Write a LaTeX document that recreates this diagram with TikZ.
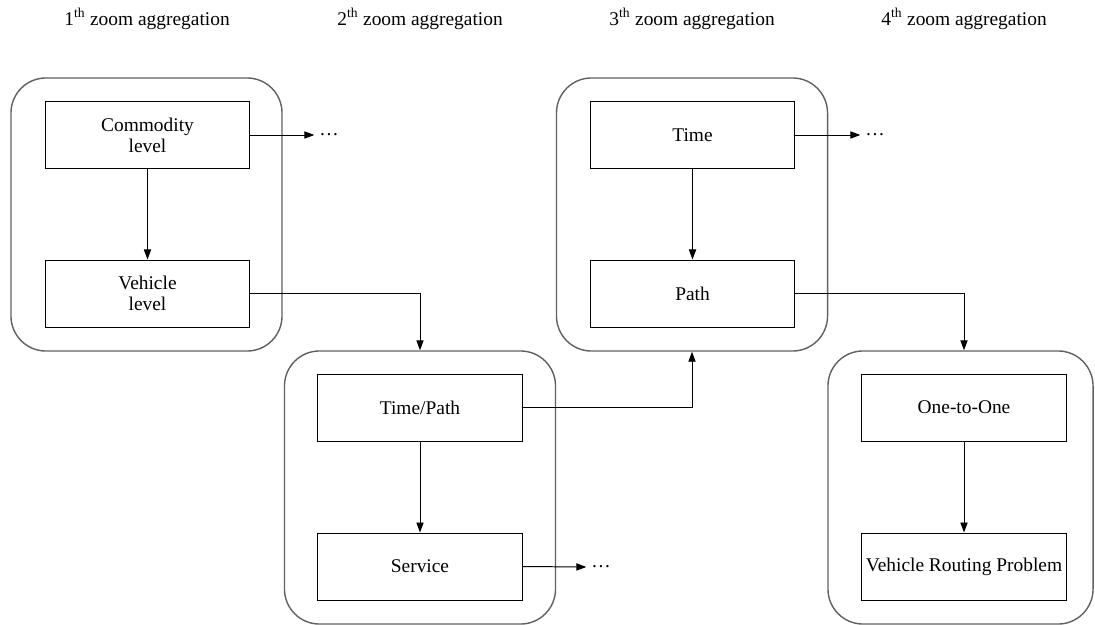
\documentclass[tikz,border=0pt]{standalone}
\usepackage{fontspec}
\setmainfont{Liberation Serif}
\usetikzlibrary{arrows.meta}
\begin{document}
\begin{tikzpicture}[x=0.025cm,y=-0.025cm,
  font=\fontsize{13.8}{15}\selectfont,
  >={Triangle[length=0.25cm,width=0.18cm]},
  grp/.style={draw=black!62,line width=1pt,rounded corners=0.875cm,minimum width=6.775cm,minimum height=6.825cm,inner sep=0pt},
  box/.style={draw,line width=0.7pt,minimum width=5.1cm,minimum height=1.675cm,align=center,inner sep=0pt},
  arr/.style={->,line width=0.7pt}]

\useasboundingbox (0,0) rectangle (1095,624);

\node (ha) at (147,19) {1\textsuperscript{th} zoom aggregation};
\node (hb) at (420,19) {2\textsuperscript{th} zoom aggregation};
\node (hc) at (692,19) {3\textsuperscript{th} zoom aggregation};
\node (hd) at (964,19) {4\textsuperscript{th} zoom aggregation};

\node[grp] (ga) at (146.5,214.5) {};
\node[grp] (gb) at (420,487.5) {};
\node[grp] (gc) at (692,214.5) {};
\node[grp,minimum width=6.625cm] (gd) at (960.5,487.5) {};

\node[box] (com) at (147.5,135) {Commodity\\level};
\node[box] (veh) at (147.5,293.5) {Vehicle\\level};
\node[box] (tp) at (420,407.5) {Time/Path};
\node[box] (ser) at (420,566.5) {Service};
\node[box] (tim) at (692.5,135) {Time};
\node[box] (pat) at (692.5,293.5) {Path};
\node[box] (one) at (964,407.5) {One-to-One};
\node[box] (vrp) at (964,566.5) {Vehicle Routing Problem};

\node (da) at (329,135) {\dots};
\node (db) at (601,567) {\dots};
\node (dc) at (875,135) {\dots};

\draw[arr] (com) -- (veh);
\draw[arr] (tp) -- (ser);
\draw[arr] (tim) -- (pat);
\draw[arr] (one) -- (vrp);
\draw[arr] (com.east) -- (da.west);
\draw[arr] (ser.east) -- (db.west);
\draw[arr] (tim.east) -- (dc.west);
\draw[arr] (veh.east) -| (gb.north);
\draw[arr] (tp.east) -| (gc.south);
\draw[arr] (pat.east) -| (one.north |- gd.north);

\end{tikzpicture}
\end{document}
